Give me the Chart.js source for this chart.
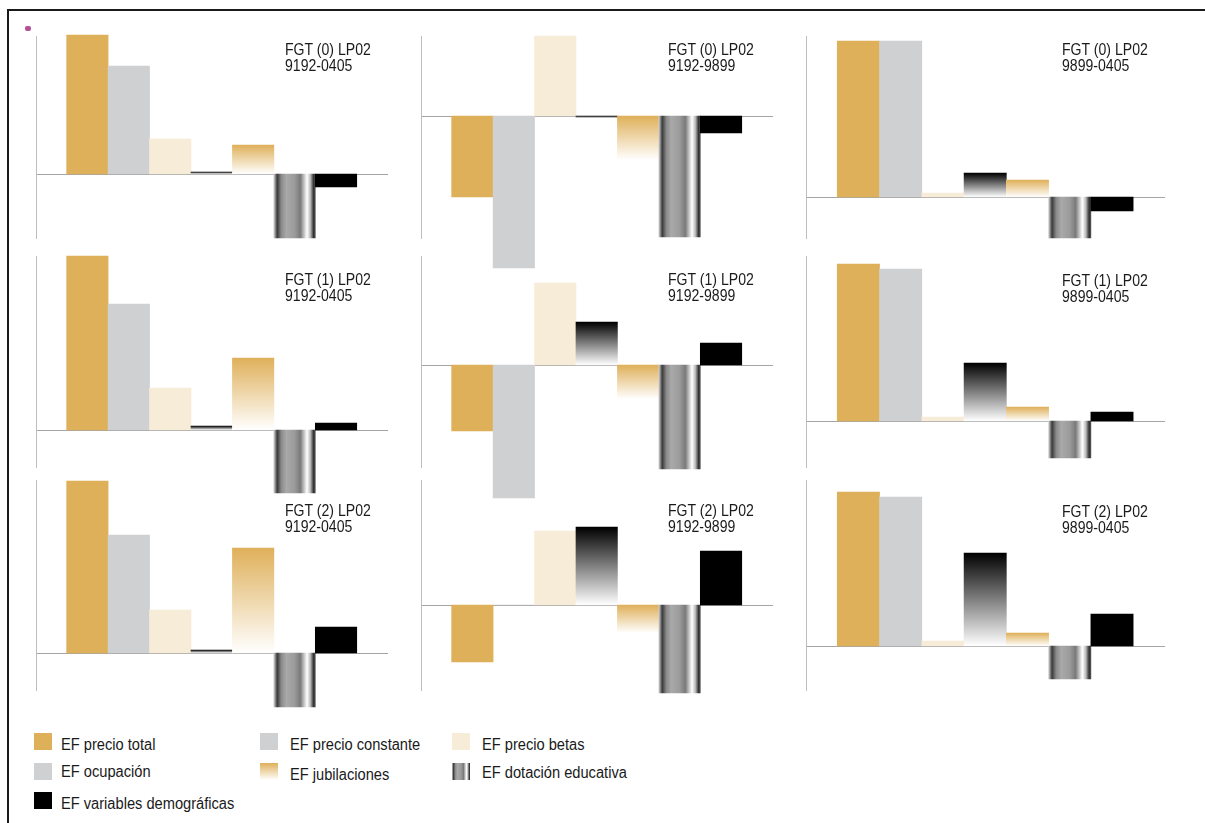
<!DOCTYPE html>
<html>
<head>
<meta charset="utf-8">
<script src="https://cdn.jsdelivr.net/npm/chart.js@4.4.1/dist/chart.umd.min.js"></script>
<style>
html,body{margin:0;padding:0;background:#fff;}
#root{position:relative;width:1205px;height:823px;overflow:hidden;font-family:"Liberation Sans",Arial,sans-serif;color:#1a1a1a;}
.frame-top{position:absolute;left:7px;top:9px;width:1198px;height:2px;background:#1a1a1a;}
.frame-left{position:absolute;left:7px;top:9px;width:2px;height:814px;background:#1a1a1a;}
.dot{position:absolute;left:25px;top:26px;width:6px;height:5px;border-radius:2px;background:#b4509a;}
canvas{position:absolute;}
.title{position:absolute;font-size:16px;line-height:16px;transform:scaleX(0.88);transform-origin:0 0;white-space:nowrap;}
.lg-sw{position:absolute;width:18px;height:17px;}
.lg-tx{position:absolute;font-size:16px;line-height:17px;transform:scaleX(0.915);transform-origin:0 0;white-space:nowrap;}
</style>
</head>
<body>
<div id="root">
  <div class="frame-top"></div>
  <div class="frame-left"></div>
  <div class="dot"></div>
</div>
<script>
// ---------------- DATA ----------------
const categories = ['EF precio total','EF precio constante','EF precio betas','EF ocupación','EF jubilaciones','EF dotación educativa','EF variables demográficas'];
const panelTitles = [
  ['FGT (0) LP02','9192-0405'], ['FGT (0) LP02','9192-9899'], ['FGT (0) LP02','9899-0405'],
  ['FGT (1) LP02','9192-0405'], ['FGT (1) LP02','9192-9899'], ['FGT (1) LP02','9899-0405'],
  ['FGT (2) LP02','9192-0405'], ['FGT (2) LP02','9192-9899'], ['FGT (2) LP02','9899-0405']
];
// values (arbitrary units), order = categories
const fgt0_9192_0405 = [13.9, 10.8, 3.5, 0.2, 2.9, -6.4, -1.3];
const fgt0_9192_9899 = [-8.1, -15.2, 8.0, -0.2, -4.4, -12.1, -1.7];
const fgt0_9899_0405 = [15.6, 15.6, 0.4, 2.4, 1.7, -4.1, -1.4];
const fgt1_9192_0405 = [17.4, 12.6, 4.2, 0.4, 7.2, -6.3, 0.7];
const fgt1_9192_9899 = [-6.6, -13.3, 8.2, 4.3, -3.4, -10.4, 2.2];
const fgt1_9899_0405 = [15.7, 15.2, 0.4, 5.8, 1.4, -3.7, 0.9];
const fgt2_9192_0405 = [17.2, 11.8, 4.3, 0.3, 10.5, -5.4, 2.6];
const fgt2_9192_9899 = [-5.7, 0.0, 7.4, 7.8, -2.8, -8.8, 5.4];
const fgt2_9899_0405 = [15.4, 14.9, 0.5, 9.3, 1.3, -3.3, 3.2];
const panelValues = [fgt0_9192_0405, fgt0_9192_9899, fgt0_9899_0405,
                     fgt1_9192_0405, fgt1_9192_9899, fgt1_9899_0405,
                     fgt2_9192_0405, fgt2_9192_9899, fgt2_9899_0405];
// y-axis extents per panel
const yMax = [13.8, 8.0, 16.1, 17.4, 10.9, 16.5, 17.3, 12.5, 16.6];
const yMin = [-6.4, -12.2, -4.1, -3.7, -10.2, -4.6, -3.7, -8.5, -4.4];

// ---------------- STYLE / LAYOUT ----------------
const gold = '#DFB05A', gray = '#CFD0D2', beige = '#F6ECD8', black = '#000000';
const cylStops = [[0,'#d0d0d0'],[0.08,'#3a3a3a'],[0.18,'#8a8a8a'],[0.3,'#a9a9a9'],[0.5,'#9b9b9b'],[0.64,'#7a7a7a'],[0.8,'#ffffff'],[0.88,'#bcbcbc'],[0.96,'#2e2e2e'],[1,'#555555']];
const colLeft = [36, 421, 806], colRight = [387, 772, 1164];
const rowTop = [36, 256, 480], rowBottom = [238, 467, 690];
const titleX = [285, 668, 1062], titleY = [42, 272, 503];
const PAD = {left:5, right:5, top:5, bottom:40};

function fill(ctx) {
  const i = ctx.dataIndex, ch = ctx.chart;
  const solid = [gold, gray, beige, '#777', gold, '#999', black][i];
  if (i !== 3 && i !== 4 && i !== 5) return solid;
  const xs = ch.scales && ch.scales.x, ys = ch.scales && ch.scales.y;
  if (!ch.chartArea || !xs || !ys) return solid;
  const c = ch.ctx;
  if (i === 5) {
    const x0 = xs.getPixelForValue(i - 0.5), x1 = xs.getPixelForValue(i + 0.5);
    const g = c.createLinearGradient(x0, 0, x1, 0);
    cylStops.forEach(s => g.addColorStop(s[0], s[1]));
    return g;
  }
  const v = ctx.parsed ? ctx.parsed.y : 0;
  let y0 = ys.getPixelForValue(Math.max(v, 0)), y1 = ys.getPixelForValue(Math.min(v, 0));
  if (y1 - y0 < 1) y1 = y0 + 1;
  const g = c.createLinearGradient(0, y0, 0, y1);
  if (i === 3) { g.addColorStop(0, '#000'); g.addColorStop(1, '#fff'); }
  else { g.addColorStop(0, gold); g.addColorStop(1, '#fff'); }
  return g;
}

const root = document.getElementById('root');
for (let p = 0; p < 9; p++) {
  const r = Math.floor(p / 3), cIdx = p % 3;
  const aL = colLeft[cIdx], aR = colRight[cIdx], aT = rowTop[r], aB = rowBottom[r];
  const w = aR - aL + PAD.left + PAD.right, h = aB - aT + PAD.top + PAD.bottom;
  const cv = document.createElement('canvas');
  cv.width = w; cv.height = h;
  cv.style.left = (aL - PAD.left) + 'px'; cv.style.top = (aT - PAD.top) + 'px';
  cv.style.width = w + 'px'; cv.style.height = h + 'px';
  root.appendChild(cv);
  new Chart(cv, {
    type: 'bar',
    data: {
      datasets: [{
        label: panelTitles[p].join(' '),
        data: panelValues[p].map((v, i) => ({x: i, y: v})),
        backgroundColor: fill,
        borderWidth: 0,
        barPercentage: 1.0,
        categoryPercentage: 1.0,
        clip: false
      }]
    },
    options: {
      responsive: false,
      maintainAspectRatio: false,
      animation: false,
      devicePixelRatio: 1,
      layout: {padding: PAD},
      plugins: {legend: {display: false}, tooltip: {enabled: false}, title: {display: false}},
      scales: {
        x: {type: 'linear', min: -1.24, max: 7.23, offset: false, position: {y: 0},
            grid: {display: false, drawTicks: false}, ticks: {display: false},
            border: {display: true, color: '#a4a4a4', width: 1}},
        y: {type: 'linear', min: yMin[p], max: yMax[p],
            grid: {display: false, drawTicks: false}, ticks: {display: false},
            border: {display: true, color: '#bdbdbd', width: 1}}
      }
    }
  });
  const t = document.createElement('div');
  t.className = 'title';
  t.style.left = titleX[cIdx] + 'px';
  t.style.top = (titleY[r] + (cIdx === 2 && r > 0 ? 1 : 0)) + 'px';
  t.innerHTML = panelTitles[p][0] + '<br>' + panelTitles[p][1];
  root.appendChild(t);
}

// ---------------- LEGEND ----------------
const cylCss = 'linear-gradient(to right,' + cylStops.map(s => s[1] + ' ' + (s[0]*100) + '%').join(',') + ')';
const legendFills = [gold, gray, beige, gray, 'linear-gradient(to bottom,' + gold + ',#fff)', cylCss, black];
const legendOrder = [0, 1, 2, 3, 4, 5, 6];
const lgColX = [34, 260, 452], lgTextX = [61, 290, 482];
const lgRowSwY = [733, 763, 792];
const lgTextTop = [[736, 736, 736], [763, 766, 764], [795, 795, 795]];
legendOrder.forEach((k, n) => {
  const r = Math.floor(n / 3), c = n % 3;
  const sw = document.createElement('div');
  sw.className = 'lg-sw';
  sw.style.left = lgColX[c] + 'px'; sw.style.top = lgRowSwY[r] + 'px';
  sw.style.background = legendFills[k];
  root.appendChild(sw);
  const tx = document.createElement('div');
  tx.className = 'lg-tx';
  tx.style.left = lgTextX[c] + 'px'; tx.style.top = lgTextTop[r][c] + 'px';
  tx.textContent = categories[k];
  root.appendChild(tx);
});
</script>
</body>
</html>
